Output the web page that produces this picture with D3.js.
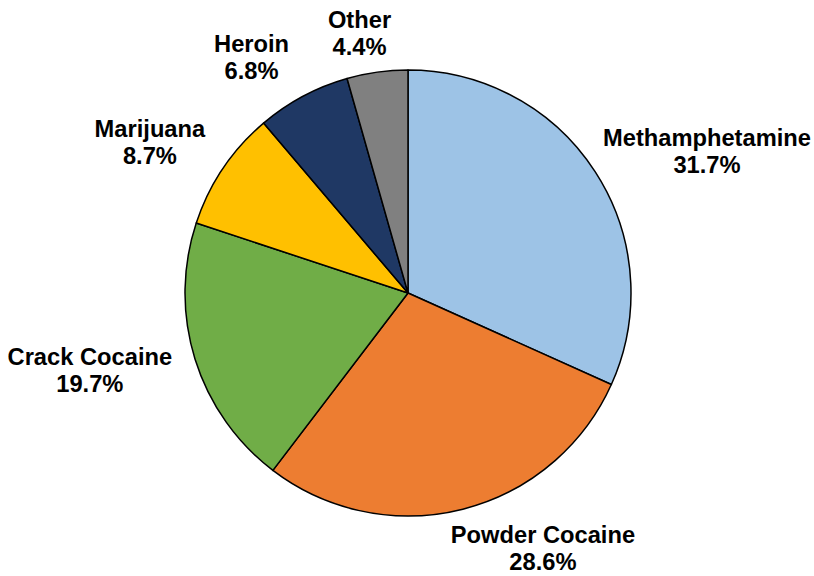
<!DOCTYPE html>
<html>
<head>
<meta charset="utf-8">
<script src="https://cdn.jsdelivr.net/npm/d3@7"></script>
<style>
body{margin:0;background:#fff;}
.label{font-family:"Liberation Sans",Arial,sans-serif;font-weight:bold;font-size:23.7px;fill:#000;}
</style>
</head>
<body>
<div class="canvas"></div>
<script>
// data
const categories=['Methamphetamine','Powder Cocaine','Crack Cocaine','Marijuana','Heroin','Other'];
const values=[31.7,28.6,19.7,8.7,6.8,4.4];
const colors=['#9DC3E6','#ED7D31','#70AD47','#FFC000','#1F3864','#808080'];

// small nudges for the label boxes (excel-ish placement)
const nudges=[[16,-2],[55,4],[-17,0],[-19,-7],[-29,-9],[-12,-5]];

const width=814, height=576;
const cx=408, cy=293, radius=223;

const svg=d3.select('.canvas').append('svg')
.attr('width',width)
.attr('height',height);

const graph=svg.append('g')
.attr('transform',`translate(${cx},${cy})`);

const data=categories.map((c,i)=>({name:c,value:values[i],color:colors[i],i:i}));

const pie=d3.pie()
.sort(null)
.value(d=>d.value);

const arc=d3.arc()
.innerRadius(0)
.outerRadius(radius);

const arcs=pie(data);

graph.selectAll('path')
.data(arcs)
.enter().append('path')
.attr('d',arc)
.attr('fill',d=>d.data.color)
.attr('stroke','#000')
.attr('stroke-width',1.5)
.attr('stroke-linejoin','round');

// labels: box sits just outside the edge along the mid angle
const labels=graph.selectAll('text.label')
.data(arcs)
.enter().append('text')
.attr('class','label')
.attr('text-anchor','middle');

labels.append('tspan').attr('class','l1').text(d=>d.data.name);
labels.append('tspan').attr('class','l2').text(d=>d.data.value.toFixed(1)+'%');

labels.each(function(d){
  const t=d3.select(this);
  const w=Math.max(t.select('.l1').node().getComputedTextLength(),t.select('.l2').node().getComputedTextLength());
  const h=50;
  const a=(d.startAngle+d.endAngle)/2;
  const px=Math.sin(a)*(radius+10), py=-Math.cos(a)*(radius+10);
  const n=nudges[d.data.i];
  const x=px+Math.sin(a)*w/2+n[0];
  const y=py-Math.cos(a)*h/2+n[1];
  t.select('.l1').attr('x',x).attr('y',y-4.5);
  t.select('.l2').attr('x',x).attr('y',y+22.5);
});
</script>
</body>
</html>
